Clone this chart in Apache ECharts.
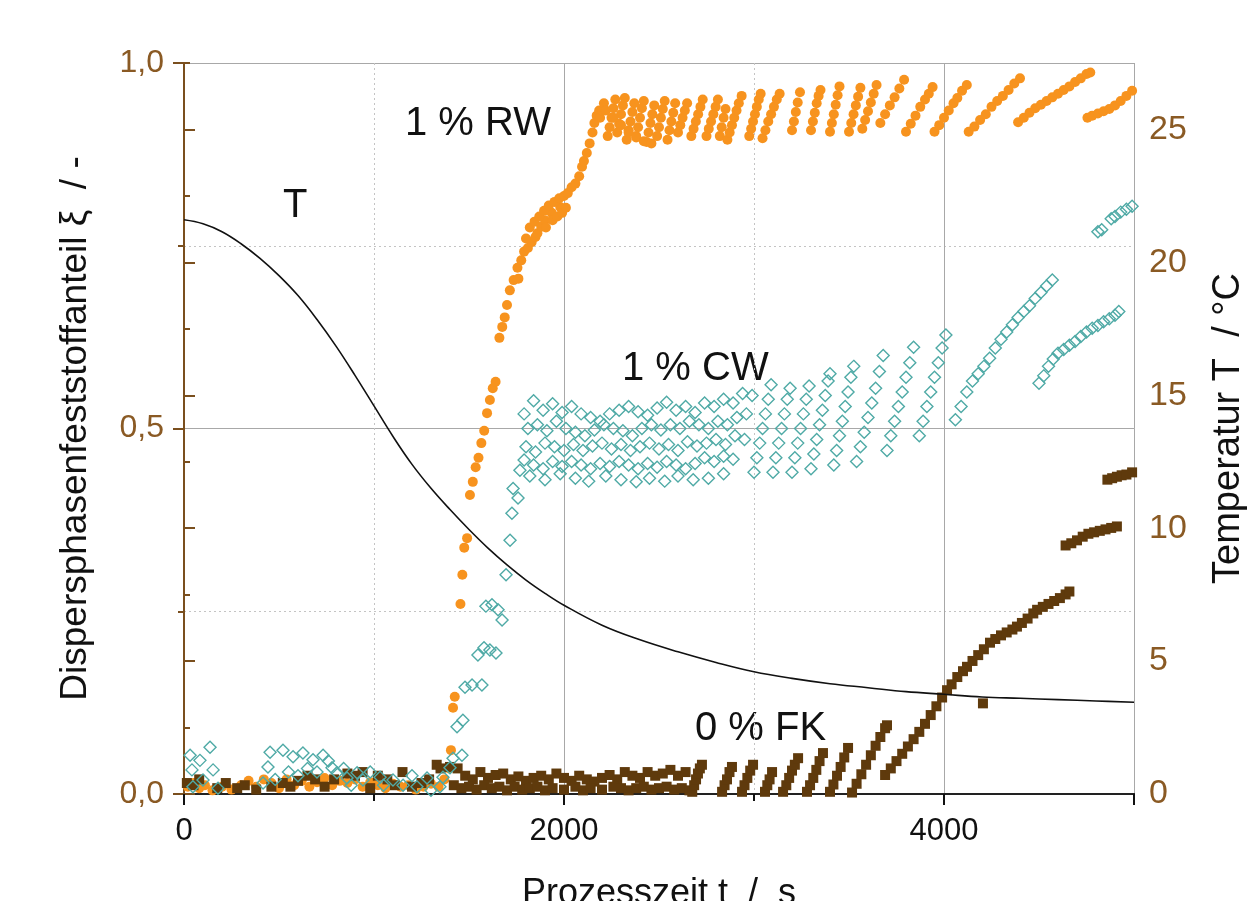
<!DOCTYPE html>
<html>
<head>
<meta charset="utf-8">
<script src="https://cdn.jsdelivr.net/npm/echarts@6/dist/echarts.min.js"></script>
<style>
html,body{margin:0;padding:0;background:#fff;overflow:hidden;}
#chart{width:1252px;height:901px;}
</style>
</head>
<body>
<div id="chart"></div>
<script>
// ---- Data ----
// Temperature T in °C (right axis) vs process time t in s
const tempT = [
 [0,21.6],[100,21.45],[200,21.15],[300,20.7],[400,20.15],[500,19.5],[600,18.75],[700,17.85],
 [800,16.85],[900,15.75],[1000,14.6],[1100,13.45],[1200,12.4],[1300,11.5],[1400,10.7],[1500,9.95],
 [1600,9.25],[1700,8.62],[1800,8.05],[1900,7.55],[2000,7.1],[2200,6.35],[2400,5.8],[2600,5.35],
 [2800,4.95],[3000,4.6],[3200,4.35],[3400,4.15],[3600,4.0],[3800,3.85],[4000,3.75],[4200,3.65],
 [4400,3.6],[4600,3.55],[4800,3.5],[5000,3.45]
];

// 1 % RW (orange circles), solid fraction xi
const rw = [
 [20,0.01],[50,0.015],[80,0.008],[110,0.012],[150,0.005],[200,0.01],[250,0.006],[300,0.012],[340,0.018],
 [380,0.01],[420,0.02],[460,0.015],[500,0.008],[540,0.02],[580,0.012],[620,0.018],[660,0.01],[700,0.016],
 [740,0.022],[780,0.012],[820,0.018],[860,0.015],[900,0.02],[940,0.01],[980,0.016],[1020,0.012],[1060,0.008],
 [1100,0.014],[1140,0.01],[1180,0.012],[1220,0.006],[1260,0.01],[1300,0.014],[1340,0.01],[1370,0.02],
 [1395,0.035],[1405,0.06],[1416,0.118],[1425,0.133],[1455,0.26],[1465,0.3],[1475,0.337],[1490,0.35],
 [1505,0.409],[1520,0.427],[1535,0.447],[1550,0.46],[1565,0.48],[1580,0.497],[1595,0.521],[1610,0.539],
 [1625,0.555],[1640,0.564],[1660,0.624],[1675,0.639],[1688,0.652],[1700,0.669],[1715,0.689],[1735,0.703],
 [1755,0.72],[1775,0.73],[1790,0.742],[1810,0.747],[1830,0.755],[1850,0.762],[1860,0.767],[1880,0.776],
 [1900,0.785],[1935,0.795],[1980,0.803],
 [1760,0.705],[1800,0.76],[1820,0.775],[1845,0.783],[1870,0.79],[1895,0.798],[1920,0.805],[1950,0.81],
 [1975,0.815],[2000,0.818],[2020,0.822],[1905,0.775],[1940,0.785],[1965,0.79],[1990,0.795],[2010,0.802],
 [2040,0.83],[2060,0.835],[2080,0.845],[2095,0.858],[2105,0.866],[2120,0.877],[2135,0.89],[2150,0.905],
 [2160,0.918],[2172,0.928],[2185,0.935],
 [2190,0.925],[2200,0.935],[2210,0.945],
 [2230,0.9],[2240,0.912],[2250,0.925],[2260,0.938],[2270,0.95],
 [2280,0.905],[2290,0.917],[2300,0.93],[2310,0.942],[2320,0.952],
 [2330,0.895],[2340,0.908],[2350,0.92],[2360,0.933],[2370,0.945],
 [2380,0.9],[2390,0.912],[2400,0.925],[2410,0.938],[2420,0.948],
 [2435,0.892],[2445,0.905],[2455,0.918],[2465,0.93],[2475,0.942],
 [2490,0.9],[2500,0.912],[2510,0.925],[2520,0.937],[2530,0.948],
 [2545,0.895],[2555,0.908],[2565,0.92],[2575,0.932],[2585,0.945],
 [2220,0.935],[2260,0.925],[2300,0.915],[2340,0.905],[2380,0.898],[2420,0.893],[2460,0.89],
 [2600,0.905],[2612,0.915],[2624,0.925],[2636,0.935],[2648,0.945],
 [2670,0.9],[2682,0.91],[2694,0.92],[2706,0.93],[2718,0.94],[2730,0.95],
 [2750,0.9],[2762,0.91],[2774,0.92],[2786,0.93],[2798,0.94],[2810,0.95],
 [2820,0.9],[2830,0.912],[2840,0.925],[2850,0.937],
 [2860,0.895],[2872,0.905],[2884,0.915],[2896,0.925],[2908,0.935],[2920,0.945],[2935,0.955],
 [2975,0.9],[2985,0.91],[2995,0.92],[3005,0.93],[3015,0.94],[3025,0.95],[3035,0.958],
 [3045,0.897],[3060,0.908],[3075,0.92],[3090,0.93],[3105,0.94],[3120,0.95],[3135,0.958],
 [3200,0.908],[3210,0.92],[3220,0.933],[3230,0.946],[3242,0.96],
 [3300,0.908],[3310,0.92],[3320,0.932],[3330,0.945],[3340,0.955],[3350,0.963],
 [3400,0.906],[3410,0.918],[3420,0.93],[3430,0.943],[3440,0.956],[3450,0.968],
 [3500,0.906],[3512,0.918],[3524,0.93],[3536,0.942],[3548,0.954],[3560,0.966],
 [3570,0.91],[3585,0.922],[3600,0.934],[3615,0.946],[3630,0.958],[3645,0.97],
 [3665,0.918],[3690,0.93],[3715,0.942],[3740,0.953],[3765,0.965],[3790,0.977],
 [3800,0.906],[3825,0.917],[3850,0.928],[3875,0.94],[3900,0.95],[3920,0.958],[3940,0.967],
 [3950,0.906],[3975,0.915],[4000,0.925],[4025,0.935],[4050,0.945],[4070,0.952],[4095,0.962],[4120,0.97],
 [4130,0.906],[4160,0.913],[4190,0.922],[4220,0.93],[4250,0.94],[4280,0.948],[4310,0.955],[4340,0.963],
 [4370,0.972],[4400,0.979],
 [4390,0.919],[4420,0.925],[4450,0.932],[4480,0.938],[4510,0.943],[4540,0.948],[4570,0.953],[4600,0.958],
 [4630,0.963],[4660,0.968],[4690,0.974],[4720,0.979],[4750,0.985],[4770,0.987],
 [4755,0.925],[4780,0.928],[4810,0.931],[4840,0.934],[4870,0.937],[4900,0.942],[4930,0.948],[4960,0.955],
 [4990,0.962]
];

// 1 % CW (teal hollow diamonds)
const cw = [
 [32,0.053],[137,0.064],[84,0.046],[42,0.033],[153,0.033],[47,0.01],[179,0.008],[100,0.019],
 [416,0.015],[442,0.037],[453,0.057],[521,0.06],[574,0.051],[626,0.056],[679,0.047],[732,0.053],
 [779,0.036],[805,0.029],[858,0.022],[911,0.029],[942,0.019],[1032,0.023],[1100,0.019],[1153,0.012],
 [1226,0.01],[1279,0.022],[1347,0.01],[1363,0.023],[1400,0.036],[1416,0.049],[1463,0.053],[1437,0.092],
 [1468,0.101],[1479,0.146],[1516,0.149],[1568,0.149],
 [480,0.02],[550,0.03],[600,0.025],[650,0.035],[700,0.03],[760,0.045],[840,0.035],[880,0.012],
 [980,0.03],[1050,0.012],[1200,0.025],[1300,0.005],
 [1547,0.19],[1579,0.2],[1610,0.197],[1642,0.193],[1589,0.257],[1621,0.259],[1653,0.252],[1674,0.238],
 [1695,0.3],[1716,0.347],[1726,0.384],[1758,0.405],[1732,0.418],[1768,0.443],
 [1790,0.52],[1840,0.538],[1890,0.525],[1940,0.534],[1990,0.522],[2040,0.53],[2090,0.52],[2140,0.515],
 [2190,0.51],[2240,0.52],[2290,0.525],[2340,0.53],[2390,0.523],[2440,0.518],[2490,0.528],[2540,0.536],
 [2590,0.525],[2640,0.53],[2690,0.522],[2740,0.535],[2790,0.53],[2840,0.54],[2890,0.535],[2940,0.548],
 [2990,0.545],
 [1810,0.5],[1860,0.505],[1910,0.497],[1960,0.51],[2010,0.5],[2060,0.495],[2110,0.49],[2160,0.498],
 [2210,0.505],[2260,0.5],[2310,0.497],[2360,0.49],[2410,0.5],[2460,0.505],[2510,0.498],[2560,0.505],
 [2610,0.5],[2660,0.51],[2710,0.505],[2760,0.5],[2810,0.51],[2860,0.505],[2910,0.515],[2960,0.52],
 [1800,0.475],[1850,0.468],[1900,0.48],[1950,0.475],[2000,0.47],[2050,0.478],[2100,0.47],[2150,0.476],
 [2200,0.48],[2250,0.472],[2300,0.478],[2350,0.47],[2400,0.475],[2450,0.48],[2500,0.472],[2550,0.478],
 [2600,0.47],[2650,0.482],[2700,0.476],[2750,0.48],[2800,0.485],[2850,0.478],[2900,0.49],[2950,0.485],
 [1790,0.457],[1840,0.45],[1890,0.445],[1940,0.455],[1990,0.448],[2040,0.455],[2090,0.45],[2140,0.445],
 [2190,0.452],[2240,0.448],[2290,0.455],[2340,0.45],[2390,0.445],[2440,0.452],[2490,0.447],[2540,0.455],
 [2590,0.45],[2640,0.445],[2690,0.452],[2740,0.46],[2790,0.455],[2840,0.462],[2890,0.458],
 [1820,0.435],[1900,0.43],[1980,0.438],[2060,0.432],[2130,0.428],[2220,0.435],[2300,0.43],[2380,0.427],
 [2450,0.432],[2530,0.428],[2600,0.435],[2680,0.43],[2760,0.432],[2840,0.438],
 [3000,0.44],[3015,0.46],[3030,0.48],[3045,0.5],[3060,0.52],[3075,0.54],[3090,0.56],
 [3100,0.44],[3115,0.46],[3130,0.48],[3145,0.5],[3160,0.52],[3175,0.54],[3190,0.555],
 [3200,0.44],[3215,0.46],[3230,0.48],[3245,0.5],[3260,0.52],[3275,0.54],[3290,0.558],
 [3300,0.445],[3315,0.465],[3330,0.485],[3345,0.505],[3360,0.525],[3375,0.545],[3390,0.565],[3400,0.575],
 [3420,0.45],[3435,0.47],[3450,0.49],[3465,0.51],[3480,0.53],[3495,0.55],[3510,0.57],[3525,0.585],
 [3540,0.455],[3560,0.475],[3580,0.495],[3600,0.515],[3620,0.535],[3640,0.555],[3660,0.578],[3680,0.6],
 [3700,0.47],[3720,0.49],[3740,0.51],[3760,0.53],[3780,0.55],[3800,0.57],[3820,0.59],[3840,0.611],
 [3870,0.49],[3890,0.51],[3910,0.53],[3930,0.55],[3950,0.57],[3970,0.59],[3990,0.61],[4010,0.628],
 [4060,0.512],[4090,0.53],[4120,0.55],[4150,0.565],[4180,0.575],[4210,0.585],[4240,0.596],[4270,0.61],
 [4300,0.622],[4330,0.632],[4360,0.642],[4390,0.652],[4420,0.66],[4450,0.668],[4480,0.678],[4510,0.686],
 [4540,0.695],[4570,0.703],
 [4500,0.562],[4525,0.572],[4550,0.585],[4575,0.595],[4600,0.603],[4630,0.608],[4660,0.614],[4690,0.619],
 [4720,0.626],[4750,0.632],[4780,0.637],[4810,0.641],[4840,0.646],[4870,0.65],[4900,0.655],[4920,0.66],
 [4810,0.769],[4830,0.772],[4880,0.787],[4900,0.79],[4930,0.796],[4960,0.8],[4990,0.804]
];

// 0 % FK (dark brown squares)
const fk = [
 [15,0.015],[50,0.012],[80,0.02],[175,0.008],[220,0.015],[280,0.008],[320,0.012],[380,0.006],
 [460,0.01],[520,0.015],[560,0.01],[600,0.018],[650,0.025],[690,0.02],[740,0.01],[790,0.02],
 [860,0.028],[900,0.025],[940,0.03],[980,0.008],[1020,0.025],[1070,0.02],[1110,0.012],[1150,0.03],
 [1200,0.01],[1250,0.015],[1290,0.02],[1330,0.04],[1350,0.035],
 [1400,0.037],[1440,0.035],[1480,0.025],[1520,0.02],[1560,0.03],[1600,0.022],[1640,0.026],[1680,0.028],
 [1720,0.02],[1760,0.024],[1800,0.018],[1840,0.022],[1880,0.025],[1920,0.02],[1960,0.028],[2000,0.022],
 [2040,0.018],[2080,0.025],[2120,0.02],[2160,0.017],[2200,0.022],[2240,0.026],[2280,0.02],[2320,0.03],
 [2360,0.025],[2400,0.022],[2440,0.03],[2480,0.025],[2520,0.028],[2560,0.033],[2600,0.025],[2640,0.03],
 [1420,0.012],[1460,0.008],[1500,0.01],[1540,0.006],[1580,0.012],[1620,0.008],[1660,0.01],[1700,0.005],
 [1740,0.01],[1780,0.006],[1820,0.008],[1860,0.01],[1900,0.005],[1940,0.008],[2000,0.006],[2060,0.01],
 [2100,0.005],[2140,0.008],[2200,0.006],[2260,0.01],[2300,0.008],[2340,0.005],[2380,0.008],[2420,0.01],
 [2460,0.006],[2500,0.008],[2540,0.01],[2580,0.006],[2620,0.008],[2660,0.005],
 [2675,0.003],[2685,0.012],[2695,0.02],[2705,0.028],[2715,0.035],[2726,0.04],
 [2832,0.003],[2845,0.012],[2858,0.02],[2871,0.03],[2884,0.037],
 [2937,0.003],[2950,0.012],[2965,0.022],[2980,0.032],[2995,0.04],
 [3058,0.003],[3070,0.012],[3082,0.02],[3095,0.03],
 [3153,0.003],[3170,0.012],[3185,0.022],[3200,0.032],[3215,0.04],[3232,0.049],
 [3279,0.003],[3295,0.012],[3312,0.022],[3328,0.033],[3345,0.045],[3363,0.056],
 [3400,0.003],[3418,0.013],[3437,0.025],[3456,0.037],[3475,0.05],[3495,0.063],
 [3516,0.002],[3540,0.014],[3565,0.027],[3590,0.04],[3615,0.053],[3640,0.066],[3665,0.078],[3690,0.09],[3700,0.094],
 [3690,0.026],[3720,0.035],[3750,0.045],[3780,0.055],[3810,0.065],[3840,0.075],[3870,0.085],[3900,0.096],
 [3930,0.108],[3960,0.12],[3990,0.132],[4016,0.142],[4040,0.15],[4070,0.16],[4100,0.168],[4121,0.174],
 [4150,0.182],[4180,0.19],[4210,0.198],[4242,0.207],[4270,0.212],[4300,0.217],[4330,0.221],[4360,0.225],
 [4384,0.229],[4410,0.234],[4440,0.24],[4470,0.247],[4490,0.252],[4520,0.256],[4550,0.26],[4580,0.264],
 [4610,0.268],[4640,0.273],[4660,0.277],
 [4205,0.124],
 [4640,0.34],[4670,0.343],[4700,0.347],[4730,0.352],[4760,0.356],[4790,0.358],[4820,0.36],[4850,0.362],
 [4880,0.364],[4910,0.366],
 [4860,0.43],[4885,0.432],[4910,0.434],[4935,0.436],[4960,0.437],[4990,0.44]
];

// Texts
const xTitle = 'Prozesszeit t  /  s';
const yLeftTitle = 'Dispersphasenfeststoffanteil ξ  / -';
const yRightTitle = 'Temperatur T  / °C';
const seriesLabels = ['1 % RW', 'T', '1 % CW', '0 % FK'];

// ---- Styling ----
const FONT = '"Liberation Sans", Arial, "DejaVu Sans", sans-serif';
const BROWN_LINE = '#7a4f1e';
const BROWN_TEXT = '#8a5a24';
const GRID_SOLID = '#a8a8a8';
const GRID_DOT = '#c4c4c4';

const chart = echarts.init(document.getElementById('chart'), null, {renderer: 'canvas'});

const option = {
  animation: false,
  backgroundColor: '#ffffff',
  grid: {left: 184, right: 118, top: 63, bottom: 107, containLabel: false, outerBoundsMode: 'none'},
  xAxis: [
    {
      type: 'value', position: 'bottom', min: 0, max: 5000, interval: 1000,
      axisLine: {show: true, lineStyle: {color: '#111', width: 2}},
      axisTick: {show: true, length: 7, lineStyle: {color: '#111', width: 2}},
      axisLabel: {
        show: true, margin: 22, fontSize: 31, color: '#111', fontFamily: FONT,
        formatter: v => (v % 2000 === 0 ? String(v) : '')
      },
      splitLine: {show: true, lineStyle: {color: GRID_DOT, width: 1, type: [2, 3]}},
      name: xTitle, nameLocation: 'middle', nameGap: 82,
      nameTextStyle: {fontSize: 36, color: '#111', fontFamily: FONT}
    },
    {
      type: 'value', position: 'bottom', min: 0, max: 5000, interval: 2000,
      axisLine: {show: false},
      axisTick: {show: true, length: 11, lineStyle: {color: '#111', width: 2}},
      axisLabel: {show: false},
      splitLine: {show: true, lineStyle: {color: GRID_SOLID, width: 1, type: 'solid'}}
    },
    {
      type: 'value', position: 'top', min: 0, max: 5000, interval: 1000,
      axisLine: {show: true, lineStyle: {color: '#222', width: 2}},
      axisTick: {show: true, inside: true, length: 7, lineStyle: {color: '#111', width: 2}},
      axisLabel: {show: false},
      splitLine: {show: false}
    }
  ],
  yAxis: [
    {
      type: 'value', position: 'left', min: 0, max: 1, interval: 0.5,
      axisLine: {show: true, lineStyle: {color: BROWN_LINE, width: 2}},
      axisTick: {show: true, length: 11, lineStyle: {color: BROWN_LINE, width: 2}},
      minorTick: {show: true, splitNumber: 2, length: 6, lineStyle: {color: BROWN_LINE, width: 2}},
      axisLabel: {
        margin: 20, fontSize: 32, color: BROWN_TEXT, fontFamily: FONT,
        formatter: v => v.toFixed(1).replace('.', ',')
      },
      splitLine: {show: true, lineStyle: {color: GRID_SOLID, width: 1}},
      minorSplitLine: {show: true, lineStyle: {color: GRID_DOT, width: 1, type: [2, 3]}},
      name: yLeftTitle, nameLocation: 'middle', nameGap: 90, nameRotate: 90,
      nameTextStyle: {fontSize: 37, color: '#111', fontFamily: FONT}
    },
    {
      type: 'value', position: 'right', min: 0, max: 27.5, interval: 5,
      axisLine: {show: true, lineStyle: {color: BROWN_LINE, width: 2}},
      axisTick: {show: true, length: 11, lineStyle: {color: BROWN_LINE, width: 2}},
      axisLabel: {
        margin: 15, fontSize: 34, color: BROWN_TEXT, fontFamily: FONT, showMaxLabel: false,
        formatter: v => (v % 5 === 0 ? String(v) : '')
      },
      splitLine: {show: false},
      name: yRightTitle, nameLocation: 'middle', nameGap: 76, nameRotate: 90,
      nameTextStyle: {fontSize: 38, color: '#111', fontFamily: FONT}
    },
    {
      type: 'value', position: 'right', min: 0, max: 27.5, interval: 2.5,
      axisLine: {show: false},
      axisTick: {show: true, length: 6, lineStyle: {color: BROWN_LINE, width: 2}},
      axisLabel: {show: false},
      splitLine: {show: false}
    }
  ],
  series: [
    {
      name: '1 % RW', type: 'scatter', xAxisIndex: 0, yAxisIndex: 0,
      symbol: 'circle', symbolSize: 10, data: rw,
      itemStyle: {color: '#f7931e', opacity: 1}
    },
    {
      name: '0 % FK', type: 'scatter', xAxisIndex: 0, yAxisIndex: 0,
      symbol: 'rect', symbolSize: 10, data: fk,
      itemStyle: {color: '#5f3a0c', opacity: 1}
    },
    {
      name: '1 % CW', type: 'scatter', xAxisIndex: 0, yAxisIndex: 0,
      symbol: 'diamond', symbolSize: [12, 12], data: cw,
      itemStyle: {color: 'rgba(255,255,255,0)', borderColor: '#4faaa6', borderWidth: 1.4, opacity: 1}
    },
    {
      name: 'T', type: 'line', xAxisIndex: 0, yAxisIndex: 1,
      data: tempT, showSymbol: false, smooth: 0.4,
      lineStyle: {color: '#111', width: 1.6}
    }
  ],
  graphic: [
    {type: 'text', left: 405, top: 104, style: {text: seriesLabels[0], font: '40px ' + FONT, fill: '#111'}},
    {type: 'text', left: 283, top: 186, style: {text: seriesLabels[1], font: '40px ' + FONT, fill: '#111'}},
    {type: 'text', left: 622, top: 349, style: {text: seriesLabels[2], font: '40px ' + FONT, fill: '#111'}},
    {type: 'text', left: 695, top: 709, style: {text: seriesLabels[3], font: '40px ' + FONT, fill: '#111'}}
  ]
};

chart.setOption(option);
</script>
</body>
</html>
